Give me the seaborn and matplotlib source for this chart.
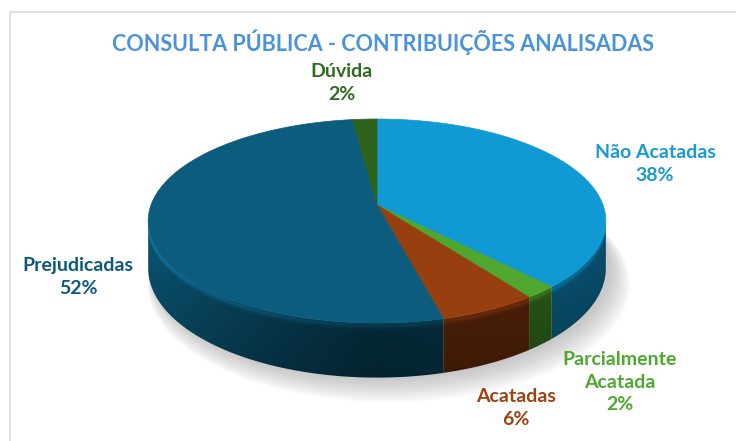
import numpy as np
import matplotlib
matplotlib.use("Agg")
import matplotlib.pyplot as plt
import seaborn as sns
from matplotlib.colors import to_rgb
from matplotlib.patches import Polygon

# ---------------- data ----------------
categories = ["Não Acatadas", "Parcialmente Acatada", "Acatadas", "Prejudicadas", "Dúvida"]
label_texts = ["Não Acatadas", "Parcialmente\nAcatada", "Acatadas", "Prejudicadas", "Dúvida"]
values = [38, 2, 6, 52, 2]
title = "CONSULTA PÚBLICA - CONTRIBUIÇÕES ANALISADAS"

# ---------------- style ----------------
slice_colors = ["#1199d3", "#4ea72e", "#983f10", "#0b5c7d", "#2e631c"]
label_colors = ["#1a9ad6", "#4ea72e", "#9c4312", "#0b5a7e", "#2e6b1f"]
label_pos = [(655, 164), (620, 382), (516, 408), (78, 277), (342, 83)]

sns.set_theme(style="white")
plt.rcParams["font.family"] = ["Lato", "DejaVu Sans"]

W, H = 736, 441
fig = plt.figure(figsize=(7.36, 4.41), dpi=100)
ax = fig.add_axes([0, 0, 1, 1])
ax.axis("off")

# chart frame (left + top edges visible)
ax.plot([10, 10, W + 5], [H + 5, 12, 12], color="#d9d9d9", lw=1.2)

# perspective pie geometry
XC, YC, R, B, K, D = 377, 205, 226, 99.5, 0.157, 46


def proj(theta_deg, r=1.0, drop=0.0):
    t = np.radians(theta_deg)
    u = r * np.cos(t)
    v = -r * np.sin(t)
    w = 1 - K * v
    return XC + R * u / w, YC + (B * v + drop) / w


# slice angles (Excel: start at 12 o'clock, clockwise)
vals = np.array(values, dtype=float)
cum = np.concatenate([[0], np.cumsum(vals) / vals.sum()])
starts = 90 - 360 * cum[:-1]
ends = 90 - 360 * cum[1:]

# soft shadow
th = np.linspace(0, 360, 361)
for i in range(14):
    sx, sy = proj(th, r=1.0 + 0.004 * i, drop=D + 1 + 1.0 * i)
    ax.fill(sx + 4 + 0.6 * i, sy, color="#808080", alpha=0.035, lw=0, zorder=1)

# side walls (front-facing part only), smooth gradients via clipped images
vis_lo, vis_hi = -180 + np.degrees(np.arcsin(K)), -np.degrees(np.arcsin(K))

tt = np.linspace(vis_lo, vis_hi, 3000)
xt, yt = proj(tt)
order = np.argsort(xt)
X0, X1, Y0, Y1 = 140, 616, 190, 400
xs = np.arange(X0, X1) + 0.5
ys = np.arange(Y0, Y1) + 0.5
th_col = np.interp(xs, xt[order], tt[order])
ytop = np.interp(xs, xt[order], yt[order])
cosc = np.cos(np.radians(th_col))
fcol = 0.42 + 0.48 * np.clip(-cosc, 0, None) ** 1.3 + 0.08 * np.clip(cosc, 0, None)
dd = ys[:, None] - ytop[None, :]
depth_here = D / (1 - K * (-np.sin(np.radians(th_col))))
rel = np.clip(dd / depth_here[None, :], 0, 1)
gain = fcol[None, :] * (1 + 0.4 * np.exp(-((dd - 2.5) / 3.0) ** 2)) * (1.04 - 0.12 * rel)

for a0, a1, col in zip(starts, ends, slice_colors):
    for shift in (0, -360, 360):
        h, l = a0 + shift, a1 + shift
        ll, hh = max(l, vis_lo), min(h, vis_hi)
        if hh <= ll:
            continue
        t = np.linspace(ll, hh, 200)
        xa, ya = proj(t)
        xb, yb = proj(t[::-1], drop=D)
        poly = Polygon(np.column_stack([np.concatenate([xa, xb]),
                                        np.concatenate([ya, yb])]),
                       closed=True, transform=ax.transData, fc="none", ec="none")
        ax.add_patch(poly)
        img = np.clip(np.array(to_rgb(col))[None, None, :] * gain[..., None], 0, 1)
        im = ax.imshow(img, extent=(X0, X1, Y1, Y0), origin="upper",
                       interpolation="bilinear", aspect="auto", zorder=2)
        im.set_clip_path(poly)

# top faces
for a0, a1, col in zip(starts, ends, slice_colors):
    t = np.linspace(a0, a1, max(3, int(abs(a0 - a1) * 2)))
    x, y = proj(t)
    ax.fill(np.concatenate([[XC], x]), np.concatenate([[YC], y]),
            color=col, lw=0.5, ec=col, zorder=3)

# labels
for txt, v, (lx, ly), lc in zip(label_texts, values, label_pos, label_colors):
    ax.text(lx, ly, f"{txt}\n{v:.0f}%", ha="center", va="center",
            color=lc, fontsize=14, fontweight="bold", linespacing=1.4,
            zorder=5)

ax.text(383, 42, title, ha="center", va="center", color="#4a92dc",
        fontsize=15.5, fontweight="bold", zorder=5)

ax.set_xlim(0, W)
ax.set_ylim(H, 0)
fig.savefig("out.png", dpi=100, facecolor="white")
